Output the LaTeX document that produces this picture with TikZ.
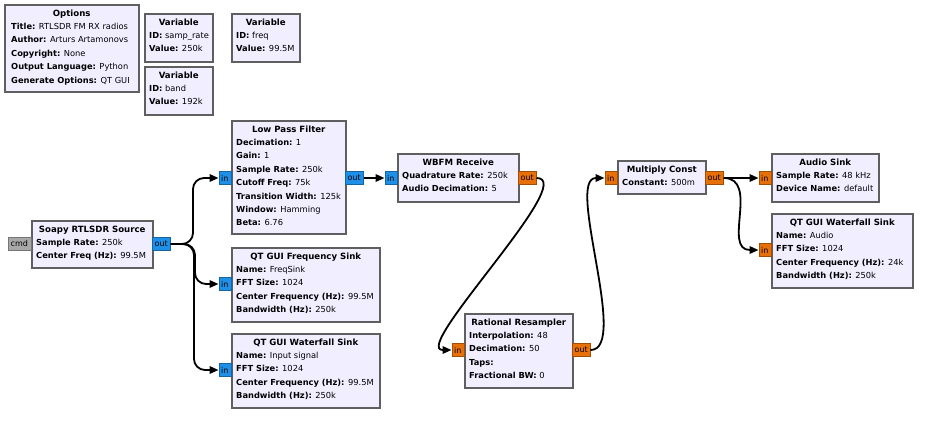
\documentclass[tikz,border=0pt]{standalone}
\usepackage{fontspec}
\setmainfont{DejaVu Sans}
\usetikzlibrary{arrows.meta,calc}
\definecolor{blkfill}{RGB}{241,238,255}
\definecolor{blkdraw}{RGB}{95,95,95}
\definecolor{pblue}{RGB}{30,144,232}
\definecolor{porange}{RGB}{232,112,8}
\definecolor{pgray}{RGB}{168,168,168}
\tikzset{
  blk/.style={draw=blkdraw, fill=blkfill, line width=1.5pt, inner sep=0pt, anchor=north west},
  ttl/.style={font=\fontsize{8.6}{10}\selectfont\bfseries, anchor=base, inner sep=0pt},
  kv/.style={font=\fontsize{8.3}{10}\selectfont, anchor=base west, inner sep=0pt},
  port/.style={draw=#1!70!black, fill=#1, line width=0.5pt, inner sep=0pt, minimum height=13pt, font=\fontsize{8}{9}\selectfont},
  inport/.style={port=#1, minimum width=12pt, anchor=east},
  outport/.style={port=#1, minimum width=18pt, anchor=west},
  wire/.style={line width=1.8pt, -{Stealth[length=9pt,width=7.5pt,inset=0pt]}},
}
\newcommand\blockrows[3]{\foreach \mykey/\myval [count=\myidx] in {#3}{\node[kv] at ($(#1.north west)+(#2,12+13.4*\myidx)$) {\textbf{\mykey:} \myval};}}
\newcommand\blocktitle[2]{\node[ttl] at ($(#1.north)+(0,12.8)$) {#2};}
\begin{document}
\begin{tikzpicture}[x=1pt,y=-1pt]
\useasboundingbox (0,0) rectangle (934,429);
% blocks
\node[blk, minimum width=134pt, minimum height=87pt] (opt) at (4,4) {};
\blocktitle{opt}{Options}
\blockrows{opt}{7}{Title/RTLSDR FM RX radios, Author/Arturs Artamonovs, Copyright/None, Output Language/Python, Generate Options/QT GUI}

\node[blk, minimum width=68pt, minimum height=48pt] (var1) at (144,13) {};
\blocktitle{var1}{Variable}
\blockrows{var1}{5}{ID/samp\_rate, Value/250k}

\node[blk, minimum width=68pt, minimum height=48pt] (var2) at (231,13) {};
\blocktitle{var2}{Variable}
\blockrows{var2}{5}{ID/freq, Value/99.5M}

\node[blk, minimum width=68pt, minimum height=48pt] (var3) at (144,66) {};
\blocktitle{var3}{Variable}
\blockrows{var3}{5}{ID/band, Value/192k}

\node[blk, minimum width=114pt, minimum height=113pt] (lpf) at (231,120) {};
\blocktitle{lpf}{Low Pass Filter}
\blockrows{lpf}{5}{Decimation/1, Gain/1, Sample Rate/250k, Cutoff Freq/75k, Transition Width/125k, Window/Hamming, Beta/6.76}

\node[blk, minimum width=121pt, minimum height=47pt] (src) at (31,220) {};
\blocktitle{src}{Soapy RTLSDR Source}
\blockrows{src}{5}{Sample Rate/250k, Center Freq (Hz)/99.5M}

\node[blk, minimum width=148pt, minimum height=74pt] (fsink) at (231,247) {};
\blocktitle{fsink}{QT GUI Frequency Sink}
\blockrows{fsink}{5}{Name/FreqSink, FFT Size/1024, Center Frequency (Hz)/99.5M, Bandwidth (Hz)/250k}

\node[blk, minimum width=148pt, minimum height=74pt] (wf1) at (231,333) {};
\blocktitle{wf1}{QT GUI Waterfall Sink}
\blockrows{wf1}{5}{Name/Input signal, FFT Size/1024, Center Frequency (Hz)/99.5M, Bandwidth (Hz)/250k}

\node[blk, minimum width=121pt, minimum height=48pt] (wbfm) at (397,153) {};
\blocktitle{wbfm}{WBFM Receive}
\blockrows{wbfm}{5}{Quadrature Rate/250k, Audio Decimation/5}

\node[blk, minimum width=108pt, minimum height=74pt] (rr) at (464,313) {};
\blocktitle{rr}{Rational Resampler}
\blockrows{rr}{5}{Interpolation/48, Decimation/50, Taps/{}, Fractional BW/0}

\node[blk, minimum width=88pt, minimum height=33pt] (mc) at (617,160) {};
\blocktitle{mc}{Multiply Const}
\blockrows{mc}{5}{Constant/500m}

\node[blk, minimum width=107pt, minimum height=48pt] (asink) at (771,153) {};
\blocktitle{asink}{Audio Sink}
\blockrows{asink}{5}{Sample Rate/48 kHz, Device Name/default}

\node[blk, minimum width=141pt, minimum height=74pt] (wf2) at (771,213) {};
\blocktitle{wf2}{QT GUI Waterfall Sink}
\blockrows{wf2}{5}{Name/Audio, FFT Size/1024, Center Frequency (Hz)/24k, Bandwidth (Hz)/250k}

% ports
\node[port=pgray, minimum width=23pt, anchor=east] (cmd) at (31,244) {cmd};
\node[outport=pblue] (srcout) at (152,244) {out};
\node[inport=pblue] (lpfin) at (231,178) {in};
\node[outport=pblue] (lpfout) at (345,178) {out};
\node[inport=pblue] (fsin) at (231,284) {in};
\node[inport=pblue] (wf1in) at (231,370) {in};
\node[inport=pblue] (wbin) at (397,178) {in};
\node[outport=porange] (wbout) at (518,178) {out};
\node[inport=porange] (rrin) at (464,350) {in};
\node[outport=porange] (rrout) at (572,350) {out};
\node[inport=porange] (mcin) at (617,178) {in};
\node[outport=porange] (mcout) at (705,178) {out};
\node[inport=porange] (asin) at (771,178) {in};
\node[inport=porange] (wf2in) at (771,250) {in};

% wires
\draw[wire, rounded corners=11pt] (srcout.east) -- (193,244) -- (193,178) -- (lpfin.west);
\draw[wire, rounded corners=11pt] (srcout.east) -- (195,244) -- (195,284) -- (fsin.west);
\draw[wire, rounded corners=11pt] (srcout.east) -- (194,244) -- (194,370) -- (wf1in.west);
\draw[wire] (lpfout.east) -- (wbin.west);
\draw[wire] (wbout.east) .. controls (580,178) and (410,350) .. (rrin.west);
\draw[wire] (rrout.east) .. controls (630,350) and (565,178) .. (mcin.west);
\draw[wire] (mcout.east) -- (asin.west);
\draw[wire] (mcout.east) .. controls (760,178) and (722,250) .. (wf2in.west);
\end{tikzpicture}
\end{document}
